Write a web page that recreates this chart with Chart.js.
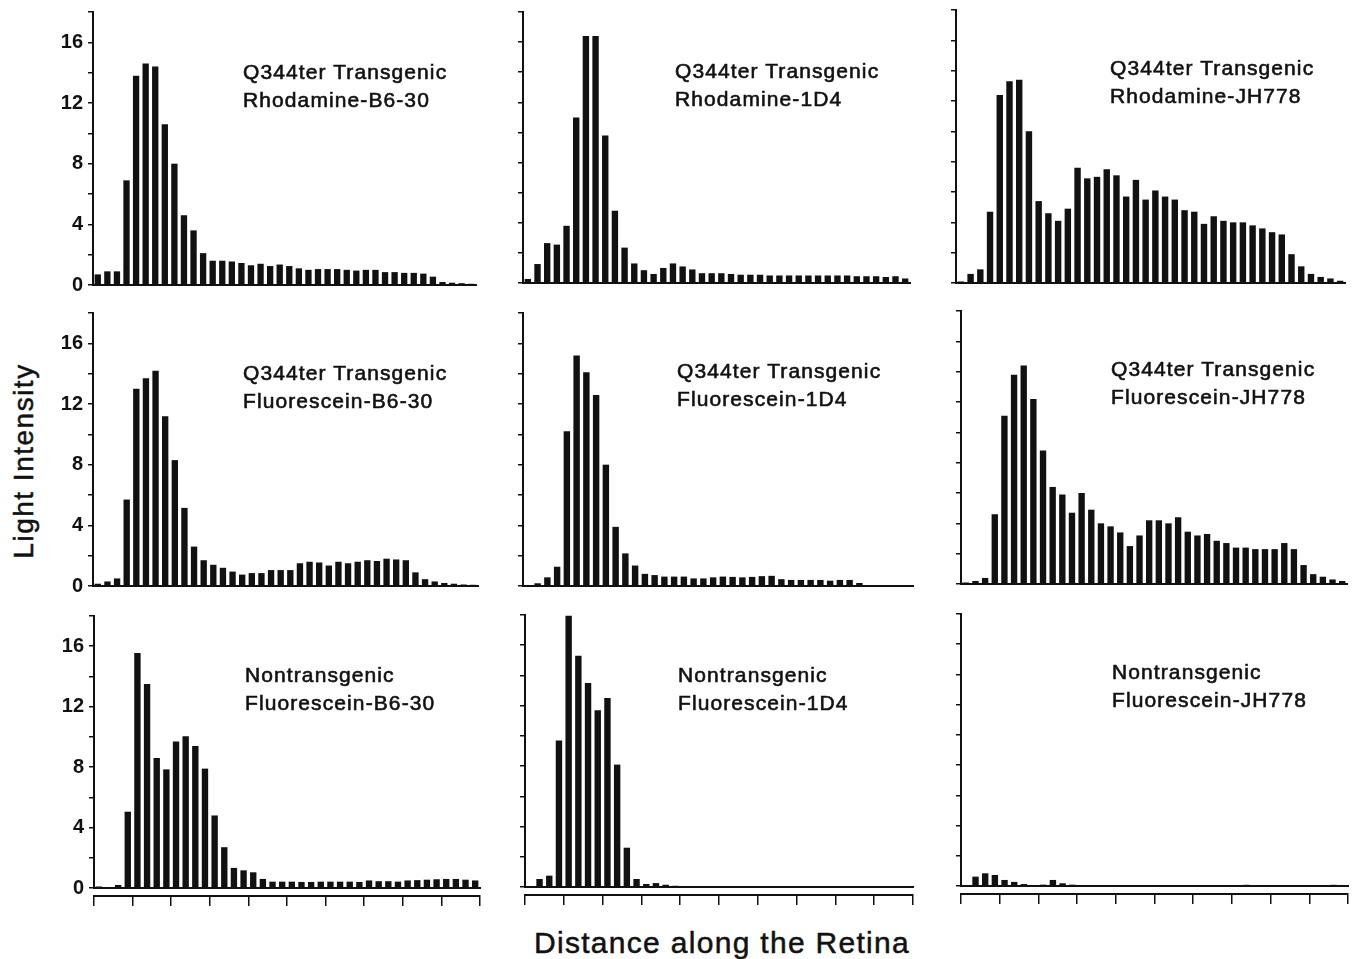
<!DOCTYPE html>
<html>
<head>
<meta charset="utf-8">
<title>Light intensity along the retina</title>
<script src="https://cdn.jsdelivr.net/npm/chart.js@4.4.0/dist/chart.umd.min.js"></script>
<style>
    body {
        margin: 0;
        width: 1353px;
        height: 959px;
        position: relative;
        overflow: hidden;
        background: #fff;
        font-family: "Liberation Sans", Arial, sans-serif;
        color: #111;
    }
    canvas { position: absolute; }
    .panel-label {
        position: absolute;
        font-size: 21px;
        line-height: 28px;
        letter-spacing: 1.1px;
        white-space: nowrap;
        -webkit-text-stroke: 0.6px #111;
    }
    .axis-title {
        position: absolute;
        white-space: nowrap;
        line-height: 1;
        transform: translate(-50%, -50%);
        -webkit-text-stroke: 0.5px #111;
    }
    #y-title { left: 24px; top: 461px; font-size: 28px; letter-spacing: 1.5px; transform: translate(-50%, -50%) rotate(-90deg); }
    #x-title { left: 722px; top: 943px; font-size: 30px; letter-spacing: 1.3px; }
</style>
</head>
<body>
<div id="y-title" class="axis-title">Light Intensity</div>
<div id="x-title" class="axis-title">Distance along the Retina</div>
<script>
var binLabels = ['1','2','3','4','5','6','7','8','9','10','11','12','13','14','15','16','17','18','19','20',
    '21','22','23','24','25','26','27','28','29','30','31','32','33','34','35','36','37','38','39','40'];
var yTickValues = [0, 4, 8, 12, 16];

// Q344ter transgenic, rhodamine
var rhodamineB630 = [0.7, 0.9, 0.9, 6.9, 13.8, 14.6, 14.4, 10.6, 8.0, 4.6, 3.6, 2.1, 1.6, 1.6, 1.55, 1.45, 1.3, 1.4, 1.25, 1.35,
    1.25, 1.1, 1.0, 1.05, 1.05, 1.05, 1.0, 0.95, 1.0, 1.0, 0.85, 0.85, 0.8, 0.8, 0.75, 0.55, 0.2, 0.15, 0.12, 0.08];
var rhodamine1D4 = [0.27, 1.26, 2.65, 2.55, 3.8, 11.0, 16.4, 16.4, 9.8, 4.8, 2.35, 1.3, 0.85, 0.6, 1.0, 1.3, 1.1, 0.9, 0.65, 0.65,
    0.65, 0.6, 0.55, 0.55, 0.55, 0.5, 0.5, 0.5, 0.5, 0.5, 0.5, 0.5, 0.5, 0.5, 0.45, 0.45, 0.45, 0.4, 0.45, 0.3];
var rhodamineJH778 = [0.1, 0.6, 0.9, 4.7, 12.4, 13.3, 13.4, 10.0, 5.4, 4.6, 4.1, 4.9, 7.6, 6.9, 7.0, 7.5, 7.1, 5.7, 6.8, 5.5,
    6.1, 5.7, 5.5, 4.8, 4.7, 3.9, 4.4, 4.1, 4.0, 4.0, 3.8, 3.6, 3.35, 3.2, 1.9, 1.1, 0.6, 0.4, 0.3, 0.15];

// Q344ter transgenic, fluorescein
var fluoresceinB630 = [0.15, 0.3, 0.5, 5.7, 13.0, 13.7, 14.2, 11.2, 8.3, 5.15, 2.6, 1.7, 1.4, 1.2, 0.95, 0.75, 0.85, 0.85, 1.05, 1.05,
    1.05, 1.5, 1.6, 1.55, 1.35, 1.6, 1.5, 1.6, 1.7, 1.65, 1.8, 1.75, 1.7, 0.9, 0.45, 0.3, 0.2, 0.15, 0.1, 0.08];
var fluorescein1D4 = [0.05, 0.18, 0.57, 1.27, 10.2, 15.2, 14.1, 12.6, 8.0, 3.9, 2.15, 1.35, 0.8, 0.72, 0.62, 0.62, 0.62, 0.5, 0.5, 0.57,
    0.62, 0.6, 0.57, 0.6, 0.65, 0.67, 0.45, 0.4, 0.4, 0.4, 0.4, 0.35, 0.4, 0.4, 0.2, 0.05, 0.02, 0.02, 0.02, 0.02];
var fluoresceinJH778 = [0.1, 0.2, 0.4, 4.6, 11.1, 13.8, 14.4, 12.2, 8.8, 6.4, 5.9, 4.7, 6.0, 4.9, 4.0, 3.8, 3.4, 2.5, 3.2, 4.2,
    4.2, 4.0, 4.4, 3.45, 3.2, 3.3, 2.85, 2.7, 2.4, 2.4, 2.3, 2.3, 2.3, 2.7, 2.3, 1.25, 0.65, 0.48, 0.3, 0.2];

// nontransgenic, fluorescein
var nontransB630 = [0.1, 0.05, 0.2, 5.05, 15.55, 13.5, 8.6, 7.85, 9.7, 10.05, 9.4, 7.9, 4.8, 2.7, 1.33, 1.17, 1.04, 0.6, 0.42, 0.42,
    0.42, 0.4, 0.4, 0.42, 0.42, 0.42, 0.42, 0.4, 0.5, 0.45, 0.45, 0.42, 0.5, 0.52, 0.55, 0.58, 0.6, 0.6, 0.55, 0.5];
var nontrans1D4 = [0.05, 0.53, 0.75, 9.7, 17.95, 15.3, 13.5, 11.7, 12.5, 8.1, 2.6, 0.53, 0.2, 0.26, 0.15, 0.08, 0.04, 0.03, 0.03, 0.03,
    0.03, 0.03, 0.03, 0.03, 0.03, 0.03, 0.03, 0.03, 0.03, 0.03, 0.03, 0.03, 0.04, 0.04, 0.03, 0.03, 0.04, 0.05, 0.04, 0.03];
var nontransJH778 = [0.03, 0.62, 0.84, 0.73, 0.4, 0.27, 0.13, 0.02, 0.09, 0.4, 0.18, 0.09, 0.03, 0.02, 0.02, 0.02, 0.02, 0.02, 0.02, 0.02,
    0.02, 0.02, 0.02, 0.02, 0.02, 0.02, 0.03, 0.06, 0.06, 0.08, 0.05, 0.03, 0.05, 0.03, 0.03, 0.03, 0.03, 0.05, 0.08, 0.06];

var INK = '#111',
    FONT = '"Liberation Sans", Arial, sans-serif',
    Y_AXIS_W = 60,
    PAD_TOP = 8,
    PAD_RIGHT = 4,
    PAD_BOTTOM = 14,
    X_GAP = 8,
    X_TICK = 10;

// plot area of each panel in page pixels: y axis x, top (=18), zero line, right end
var panels = [
    {data: rhodamineB630,    row: 0, col: 0, left: 93,  top: 12,  bottom: 285, right: 476,  lines: ['Q344ter Transgenic', 'Rhodamine-B6-30'],   tx: 243,  ty: 72},
    {data: rhodamine1D4,     row: 0, col: 1, left: 523, top: 12,  bottom: 283, right: 910,  lines: ['Q344ter Transgenic', 'Rhodamine-1D4'],     tx: 675,  ty: 71},
    {data: rhodamineJH778,   row: 0, col: 2, left: 956, top: 10,  bottom: 283, right: 1345, lines: ['Q344ter Transgenic', 'Rhodamine-JH778'],   tx: 1110, ty: 68},
    {data: fluoresceinB630,  row: 1, col: 0, left: 93,  top: 313, bottom: 586, right: 478,  lines: ['Q344ter Transgenic', 'Fluorescein-B6-30'], tx: 243,  ty: 373},
    {data: fluorescein1D4,   row: 1, col: 1, left: 523, top: 313, bottom: 586, right: 913,  lines: ['Q344ter Transgenic', 'Fluorescein-1D4'],   tx: 677,  ty: 371},
    {data: fluoresceinJH778, row: 1, col: 2, left: 961, top: 311, bottom: 584, right: 1347, lines: ['Q344ter Transgenic', 'Fluorescein-JH778'], tx: 1111, ty: 369},
    {data: nontransB630,     row: 2, col: 0, left: 94,  top: 616, bottom: 888, right: 480,  lines: ['Nontransgenic', 'Fluorescein-B6-30'],      tx: 245,  ty: 675},
    {data: nontrans1D4,      row: 2, col: 1, left: 525, top: 615, bottom: 887, right: 913,  lines: ['Nontransgenic', 'Fluorescein-1D4'],        tx: 678,  ty: 675},
    {data: nontransJH778,    row: 2, col: 2, left: 961, top: 614, bottom: 886, right: 1348, lines: ['Nontransgenic', 'Fluorescein-JH778'],      tx: 1112, ty: 672}
];

function addLabel(p) {
    var div = document.createElement('div');
    div.className = 'panel-label';
    div.style.left = p.tx + 'px';
    div.style.top = (p.ty - 14) + 'px';
    div.innerHTML = p.lines.join('<br>');
    document.body.appendChild(div);
}

function createPanel(p) {
    var lowerRow = p.row === 2,
        xAxisH = lowerRow ? X_GAP : 0,
        x2H = lowerRow ? X_TICK : 0,
        w = p.right - p.left + Y_AXIS_W + PAD_RIGHT,
        h = p.bottom - p.top + PAD_TOP + PAD_BOTTOM + xAxisH + x2H;

    var canvas = document.createElement('canvas');
    canvas.width = w;
    canvas.height = h;
    canvas.style.width = w + 'px';
    canvas.style.height = h + 'px';
    canvas.style.left = (p.left - Y_AXIS_W) + 'px';
    canvas.style.top = (p.top - PAD_TOP) + 'px';
    document.body.appendChild(canvas);

    var scales = {
        x: {
            type: 'category',
            position: 'bottom',
            offset: true,
            grid: {display: false},
            ticks: {display: false},
            border: {display: true, color: INK, width: 2},
            afterFit: function(s) {
                s.height = xAxisH;
                s.paddingLeft = s.paddingRight = 0;
            }
        },
        y: {
            min: 0,
            max: 18,
            ticks: {
                stepSize: 2,
                autoSkip: false,
                padding: 5,
                color: INK,
                font: {family: FONT, size: 20, weight: 'bold'},
                callback: function(v) {
                    return (p.col === 0 && yTickValues.indexOf(v) >= 0) ? String(v) : '';
                }
            },
            grid: {drawOnChartArea: false, drawTicks: true, tickLength: 5, color: INK, lineWidth: 1.5},
            border: {display: true, color: INK, width: 2},
            afterFit: function(s) {
                s.width = Y_AXIS_W;
                s.paddingTop = s.paddingBottom = 0;
            }
        }
    };

    if (lowerRow) {
        // distance axis under the bottom row, one tick every 4 bins
        scales.x2 = {
            type: 'linear',
            axis: 'x',
            position: 'bottom',
            weight: 1,
            min: 0,
            max: binLabels.length,
            offset: false,
            ticks: {display: false, stepSize: 4, autoSkip: false},
            grid: {offset: false, drawOnChartArea: false, drawTicks: true, tickLength: X_TICK, color: INK, lineWidth: 1.5},
            border: {display: true, color: INK, width: 2},
            afterFit: function(s) {
                s.height = x2H;
                s.paddingLeft = s.paddingRight = 0;
            }
        };
    }

    new Chart(canvas, {
        type: 'bar',
        data: {
            labels: binLabels,
            datasets: [{
                data: p.data,
                backgroundColor: INK,
                borderWidth: 0,
                barPercentage: 0.66,
                categoryPercentage: 1
            }]
        },
        options: {
            responsive: false,
            animation: false,
            devicePixelRatio: 1,
            events: [],
            layout: {padding: {top: PAD_TOP, right: PAD_RIGHT, bottom: PAD_BOTTOM, left: 0}},
            plugins: {legend: {display: false}, tooltip: {enabled: false}},
            scales: scales
        }
    });

    addLabel(p);
}

panels.forEach(createPanel);
</script>
</body>
</html>
